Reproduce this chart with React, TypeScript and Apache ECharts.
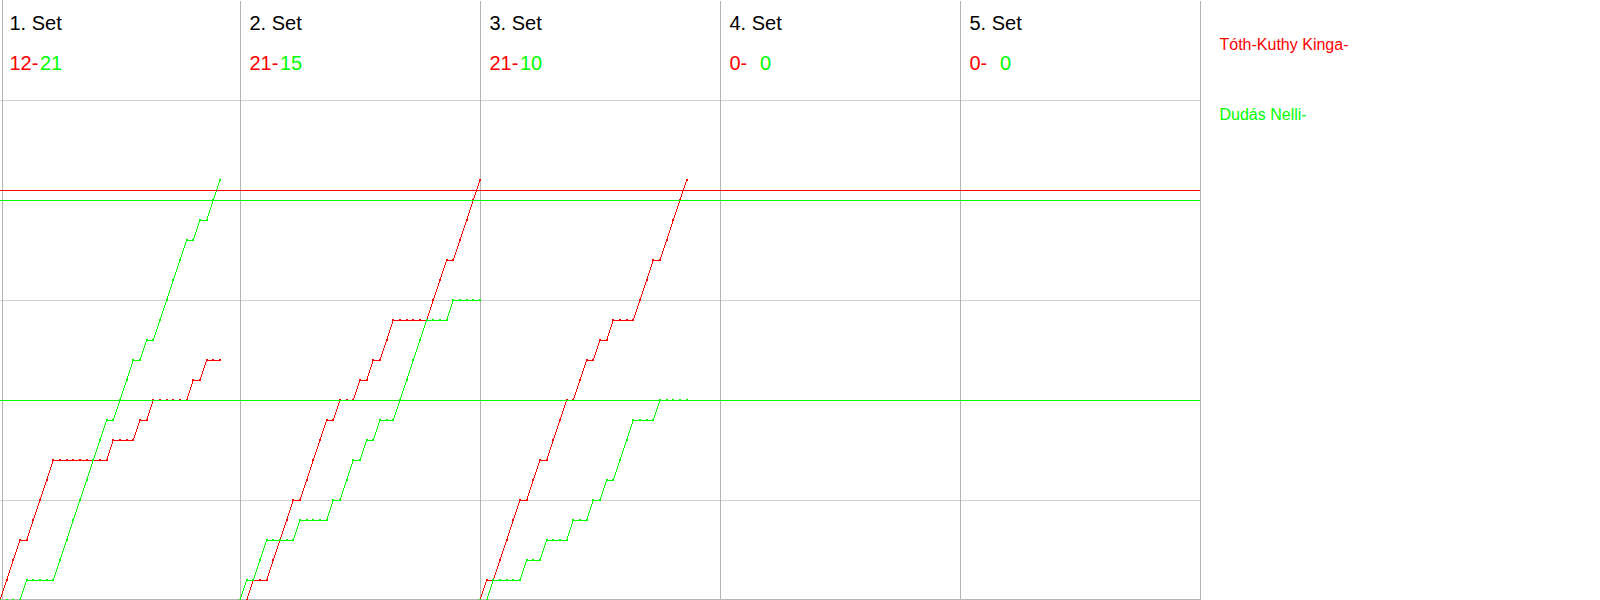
import React, { useEffect, useRef } from "react";
import * as echarts from "echarts";

// ---- data ----
const setTitles = ["1. Set", "2. Set", "3. Set", "4. Set", "5. Set"];
const redScoreTexts = ["12-", "21-", "21-", "0-", "0-"];
const greenScoreTexts = ["21", "15", "10", "0", "0"];
const playerNames = ["Tóth-Kuthy Kinga-", "Dudás Nelli-"];

const RED = "#ff0000";
const GREEN = "#00ff00";

// cumulative score after each rally (index 0 = start of set)
const set1Red = [0, 1, 2, 3, 3, 4, 5, 6, 7, 7, 7, 7, 7, 7, 7, 7, 7, 8, 8, 8, 8, 9, 9, 10, 10, 10, 10, 10, 10, 11, 11, 12, 12, 12];
const set1Green = [0, 0, 0, 0, 1, 1, 1, 1, 1, 2, 3, 4, 5, 6, 7, 8, 9, 9, 10, 11, 12, 12, 13, 13, 14, 15, 16, 17, 18, 18, 19, 19, 20, 21];
const set2Red = [0, 0, 1, 1, 1, 2, 3, 4, 5, 5, 6, 7, 8, 9, 9, 10, 10, 10, 11, 11, 12, 12, 13, 14, 14, 14, 14, 14, 14, 15, 16, 17, 17, 18, 19, 20, 21];
const set2Green = [0, 1, 1, 2, 3, 3, 3, 3, 3, 4, 4, 4, 4, 4, 5, 5, 6, 7, 7, 8, 8, 9, 9, 9, 10, 11, 12, 13, 14, 14, 14, 14, 15, 15, 15, 15, 15];
const set3Red = [0, 1, 1, 2, 3, 4, 5, 5, 6, 7, 7, 8, 9, 10, 10, 11, 12, 12, 13, 13, 14, 14, 14, 14, 15, 16, 17, 17, 18, 19, 20, 21];
const set3Green = [0, 0, 1, 1, 1, 1, 1, 2, 2, 2, 3, 3, 3, 3, 4, 4, 4, 5, 5, 6, 6, 7, 8, 9, 9, 9, 9, 10, 10, 10, 10, 10];
const set4Red: number[] = [];
const set4Green: number[] = [];
const set5Red: number[] = [];
const set5Green: number[] = [];

const redSets = [set1Red, set2Red, set3Red, set4Red, set5Red];
const greenSets = [set1Green, set2Green, set3Green, set4Green, set5Green];

const ralliesPerSet = 36;
const redRefLines = [20.5];
const greenRefLines = [20, 10];

const FONT = '"Liberation Sans", Arial, Helvetica, sans-serif';

function makeSeries(values: number[], setIndex: number, color: string, name: string, refLines?: number[]) {
  const s: any = {
    name,
    type: "line",
    data: values.map((v, i) => [setIndex * ralliesPerSet + i, v]),
    symbol: "rect",
    symbolSize: 2,
    showAllSymbol: true,
    lineStyle: { color, width: 1 },
    itemStyle: { color },
    emphasis: { disabled: true },
    silent: true,
  };
  if (refLines) {
    s.markLine = {
      silent: true,
      symbol: ["none", "none"],
      label: { show: false },
      lineStyle: { color, width: 1, type: "solid" },
      emphasis: { disabled: true },
      data: refLines.map((y) => ({ yAxis: y })),
    };
  }
  return s;
}

export default function App() {
  const ref = useRef<HTMLDivElement>(null);
  useEffect(() => {
    document.body.style.margin = "0";
    if (!ref.current) return;
    const chart = echarts.init(ref.current, undefined, { renderer: "svg" });

    const series: any[] = [];
    redSets.forEach((arr, k) => {
      if (arr.length) series.push(makeSeries(arr, k, RED, playerNames[0], k === 0 ? redRefLines : undefined));
    });
    greenSets.forEach((arr, k) => {
      if (arr.length) series.push(makeSeries(arr, k, GREEN, playerNames[1], k === 0 ? greenRefLines : undefined));
    });

    const graphic: any[] = [];
    setTitles.forEach((t, k) => {
      const x0 = 240 * k + 9.5;
      graphic.push({
        type: "text",
        x: x0,
        y: 23,
        silent: true,
        style: { text: t, fill: "#000", font: `20px ${FONT}`, textVerticalAlign: "middle", verticalAlign: "middle" },
      });
      graphic.push({
        type: "text",
        x: x0,
        y: 63,
        silent: true,
        style: { text: redScoreTexts[k], fill: RED, font: `20px ${FONT}`, textVerticalAlign: "middle", verticalAlign: "middle" },
      });
      graphic.push({
        type: "text",
        x: x0 + 30.5,
        y: 63,
        silent: true,
        style: { text: greenScoreTexts[k], fill: GREEN, font: `20px ${FONT}`, textVerticalAlign: "middle", verticalAlign: "middle" },
      });
    });
    graphic.push({
      type: "text",
      x: 1219.5,
      y: 44.5,
      silent: true,
      style: { text: playerNames[0], fill: RED, font: `16px ${FONT}`, textVerticalAlign: "middle", verticalAlign: "middle" },
    });
    graphic.push({
      type: "text",
      x: 1219.5,
      y: 114,
      silent: true,
      style: { text: playerNames[1], fill: GREEN, font: `16px ${FONT}`, textVerticalAlign: "middle", verticalAlign: "middle" },
    });

    chart.setOption({
      animation: false,
      backgroundColor: "#ffffff",
      grid: { left: 0, top: 0.5, width: 1200, height: 600, containLabel: false },
      xAxis: [
        {
          type: "value",
          position: "top",
          min: 0,
          max: ralliesPerSet * 5,
          interval: ralliesPerSet,
          axisLine: { show: true, lineStyle: { color: "#000000", width: 1 } },
          axisTick: { show: false },
          axisLabel: { show: false },
          splitLine: { show: true, showMinLine: false, lineStyle: { color: "#b4b4b4", width: 1 } },
        },
        {
          type: "value",
          position: "bottom",
          offset: -1,
          min: 0,
          max: ralliesPerSet * 5,
          interval: ralliesPerSet,
          axisLine: { show: true, lineStyle: { color: "#b4b4b4", width: 1 } },
          axisTick: { show: false },
          axisLabel: { show: false },
          splitLine: { show: false },
        },
      ],
      yAxis: {
        type: "value",
        min: 0,
        max: 30,
        interval: 5,
        offset: -2,
        axisLine: { show: true, lineStyle: { color: "#b4b4b4", width: 1 } },
        axisTick: { show: false },
        axisLabel: { show: false },
        splitLine: { show: true, showMaxLine: false, lineStyle: { color: "#d2d2d2", width: 1 } },
      },
      series,
      graphic,
    });
    return () => chart.dispose();
  }, []);
  return <div ref={ref} style={{ width: 1600, height: 600, shapeRendering: "crispEdges" } as any} />;
}
